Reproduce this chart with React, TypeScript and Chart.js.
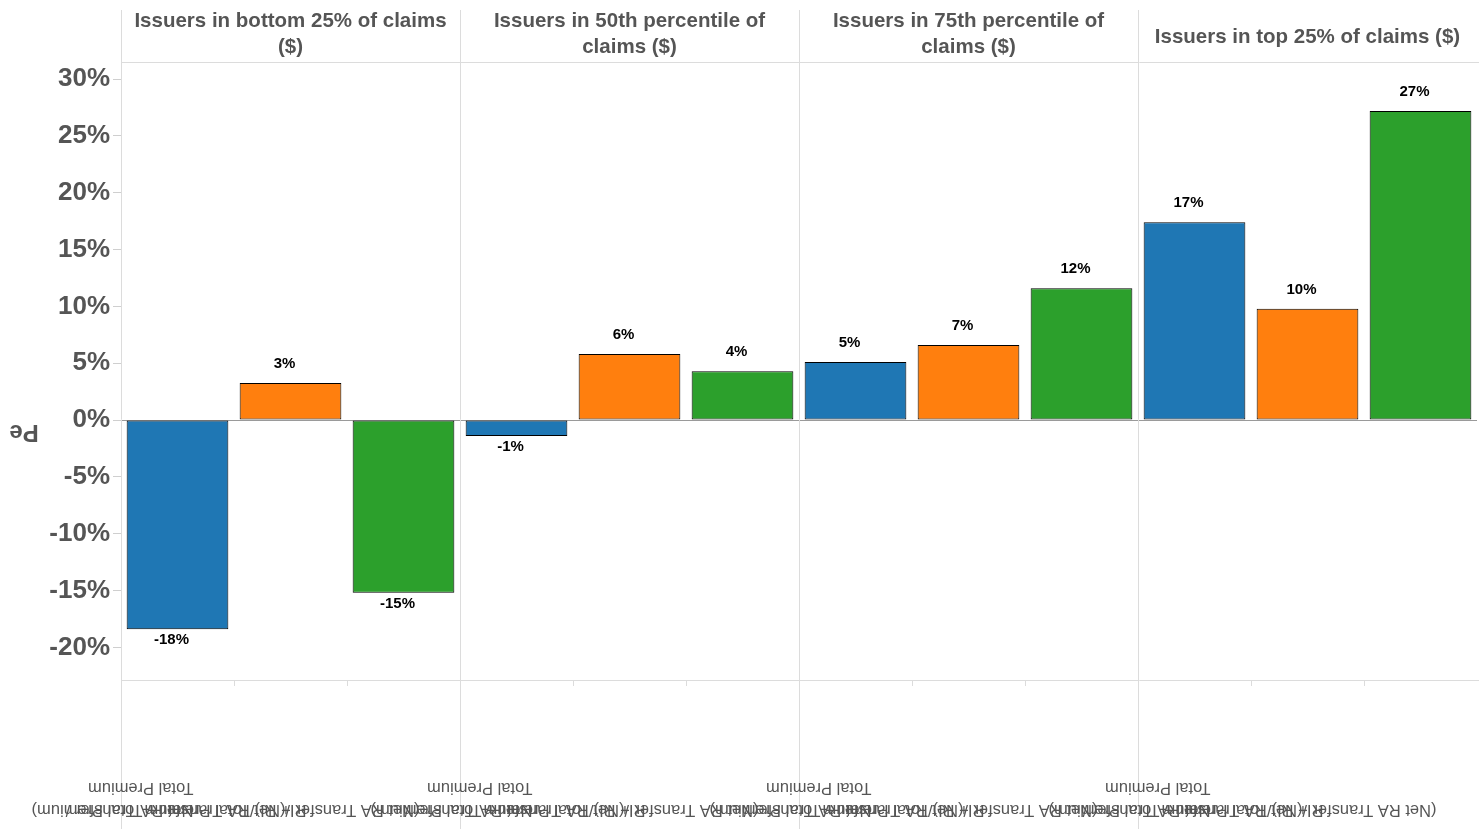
import { useEffect, useRef } from 'react';
import { Chart, registerables } from 'chart.js';

Chart.register(...registerables);

const panelTitles: string[][] = [
  ['Issuers in bottom 25% of claims', '($)'],
  ['Issuers in 50th percentile of', 'claims ($)'],
  ['Issuers in 75th percentile of', 'claims ($)'],
  ['Issuers in top 25% of claims ($)'],
];
const measureLabels: string[][] = [
  ['Net RA Transfer /', 'Total Premium'],
  ['RI/(Net RA Transfer + Total Premium)'],
  ['(Net RA Transfer + RI)/Total Premium'],
];
const netRA = [-18.4, -1.4, 5.1, 17.4];
const riShare = [3.25, 5.8, 6.6, 9.8];
const combined = [-15.2, 4.3, 11.6, 27.2];
const seriesColors = ['#1f77b4', '#ff7f0e', '#2ca02c'];
const yTicks = [-20, -15, -10, -5, 0, 5, 10, 15, 20, 25, 30];
const yTitle = 'Pe';

const FONT = '"Liberation Sans", Arial, sans-serif';

export default function App() {
  const ref = useRef<HTMLCanvasElement | null>(null);

  useEffect(() => {
    document.body.style.margin = '0';
    document.body.style.overflow = 'hidden';
    const canvas = ref.current;
    if (!canvas) return;
    const series = [netRA, riShare, combined];
    const categories: string[] = [];
    panelTitles.forEach((p, pi) =>
      measureLabels.forEach((m, mi) => categories.push(pi + '-' + mi))
    );
    const datasets = series.map((vals, s) => ({
      label: measureLabels[s].join(' '),
      data: categories.map((_, i) => (i % 3 === s ? vals[Math.floor(i / 3)] : null)),
      backgroundColor: seriesColors[s],
      borderColor: '#000',
      borderWidth: 1,
      borderSkipped: false,
      grouped: false,
      barPercentage: 0.9,
      categoryPercentage: 1,
    }));

    const decor = {
      id: 'decor',
      beforeDatasetsDraw(chart: any) {
        const { ctx, chartArea } = chart;
        const y0 = chart.scales.y.getPixelForValue(0);
        ctx.save();
        ctx.strokeStyle = '#9a9a9a';
        ctx.lineWidth = 1;
        ctx.beginPath();
        ctx.moveTo(chartArea.left, Math.round(y0) + 0.5);
        ctx.lineTo(chartArea.right, Math.round(y0) + 0.5);
        ctx.stroke();
        ctx.restore();
      },
      afterDatasetsDraw(chart: any) {
        const { ctx } = chart;
        ctx.save();
        ctx.font = 'bold 15px ' + FONT;
        ctx.fillStyle = '#000';
        ctx.textAlign = 'center';
        ctx.textBaseline = 'middle';
        chart.data.datasets.forEach((ds: any, di: number) => {
          const meta = chart.getDatasetMeta(di);
          meta.data.forEach((el: any, i: number) => {
            const v = ds.data[i];
            if (v === null || v === undefined) return;
            const txt = Math.round(v) + '%';
            const y = v >= 0 ? el.y - 19 : el.y + 11;
            ctx.fillText(txt, el.x - 6, y);
          });
        });
        ctx.restore();
      },
      afterDraw(chart: any) {
        const { ctx, chartArea } = chart;
        const W = chart.width;
        const H = chart.height;
        const left = chartArea.left;
        const right = chartArea.right;
        const pw = (right - left) / panelTitles.length;
        const slot = pw / measureLabels.length;
        ctx.save();
        // grid lines
        ctx.strokeStyle = '#dcdcdc';
        ctx.lineWidth = 1;
        ctx.beginPath();
        for (let p = 0; p < panelTitles.length; p++) {
          const x = Math.round(left + p * pw) + 0.5;
          ctx.moveTo(x, 10);
          ctx.lineTo(x, H);
        }
        ctx.moveTo(left, Math.round(chartArea.top) + 0.5);
        ctx.lineTo(W, Math.round(chartArea.top) + 0.5);
        ctx.moveTo(left, Math.round(chartArea.bottom) + 0.5);
        ctx.lineTo(W, Math.round(chartArea.bottom) + 0.5);
        for (let p = 0; p < panelTitles.length; p++) {
          for (let m = 1; m < measureLabels.length; m++) {
            const x = Math.round(left + p * pw + m * slot) + 0.5;
            ctx.moveTo(x, chartArea.bottom);
            ctx.lineTo(x, chartArea.bottom + 6);
          }
        }
        ctx.stroke();

        // panel headers
        ctx.fillStyle = '#555';
        ctx.font = 'bold 20.5px ' + FONT;
        ctx.textAlign = 'center';
        ctx.textBaseline = 'alphabetic';
        panelTitles.forEach((lines, p) => {
          const cx = left + p * pw + pw / 2;
          if (lines.length === 1) {
            ctx.fillText(lines[0], cx, 43);
          } else {
            lines.forEach((ln, li) => ctx.fillText(ln, cx, 27 + li * 26));
          }
        });

        // upside-down category labels
        ctx.font = '16.5px ' + FONT;
        ctx.textAlign = 'left';
        ctx.textBaseline = 'middle';
        for (let p = 0; p < panelTitles.length; p++) {
          measureLabels.forEach((lines, m) => {
            const cx = left + p * pw + m * slot + slot / 2;
            lines.forEach((ln, li) => {
              ctx.save();
              ctx.translate(cx + 16, 810 - li * 22);
              ctx.rotate(Math.PI);
              ctx.fillText(ln, 0, 0);
              ctx.restore();
            });
          });
        }

        // y title (upside down)
        ctx.font = 'bold 24px ' + FONT;
        ctx.textAlign = 'center';
        ctx.textBaseline = 'middle';
        ctx.save();
        ctx.translate(24, 432);
        ctx.rotate(Math.PI);
        ctx.fillText(yTitle, 0, 0);
        ctx.restore();
        ctx.restore();
      },
    };

    const chart = new Chart(canvas, {
      type: 'bar',
      data: { labels: categories, datasets: datasets as any },
      options: {
        animation: false,
        responsive: false,
        maintainAspectRatio: false,
        devicePixelRatio: 1,
        layout: { padding: { left: 0, right: 2, top: 62, bottom: 149 } },
        plugins: { legend: { display: false }, tooltip: { enabled: false } },
        scales: {
          x: { display: false },
          y: {
            min: -22.87,
            max: 31.5,
            afterBuildTicks: (scale: any) => {
              scale.ticks = yTicks.map((v) => ({ value: v }));
            },
            afterFit: (scale: any) => {
              scale.width = 121;
            },
            border: { display: false },
            grid: {
              drawOnChartArea: false,
              drawTicks: true,
              tickLength: 8,
              color: '#cfcfcf',
            },
            ticks: {
              padding: 3,
              color: '#555',
              font: { family: FONT, size: 26, weight: 'bold' },
              callback: (v: any) => v + '%',
            },
          },
        },
      },
      plugins: [decor],
    });
    return () => chart.destroy();
  }, []);

  return <canvas ref={ref} width={1479} height={829} style={{ display: 'block' }} />;
}
